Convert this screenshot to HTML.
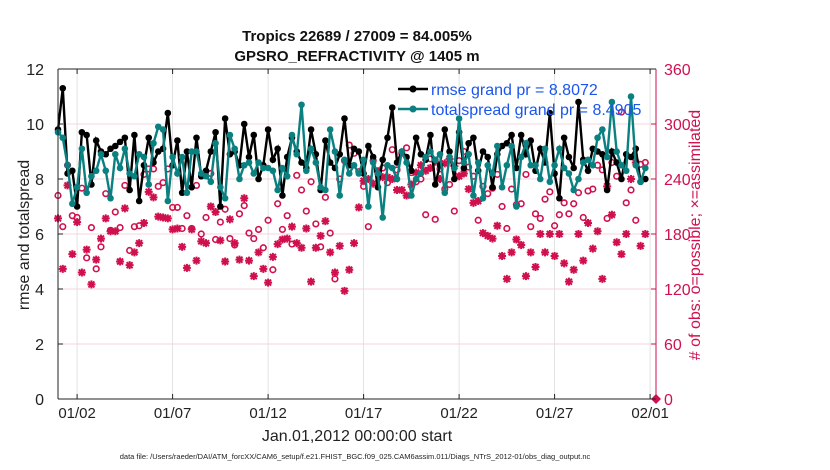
<!DOCTYPE html>
<html><head><meta charset="utf-8"><style>
body{margin:0;background:#fff;}
svg{display:block;font-family:"Liberation Sans",sans-serif;}
</style></head><body>
<svg id="c" width="830" height="470"></svg>
<script>
const rmse=[9.8,11.3,8.2,8.3,7.0,9.7,9.6,7.8,9.4,9.0,8.9,9.1,9.2,9.35,9.5,7.6,9.6,7.2,8.5,9.5,8.6,9.0,9.1,10.4,8.5,9.4,7.5,9.0,7.7,9.5,8.1,
8.3,9.0,9.7,7.0,10.2,8.9,9.0,8.5,10.0,8.8,9.6,8.0,8.5,9.8,8.7,9.1,7.4,8.8,9.5,9.0,8.6,8.4,9.8,8.9,7.6,9.4,8.6,8.4,8.9,10.2,8.5,9.1,
9.0,8.2,9.2,8.8,7.7,8.7,9.5,10.6,8.6,9.0,8.8,8.3,9.5,8.9,8.7,9.6,7.8,8.5,9.8,9.0,8.0,9.7,8.4,9.3,9.5,8.3,9.0,8.8,7.7,8.9,9.2,
9.3,9.6,8.4,9.6,8.9,9.4,8.3,9.1,8.6,10.4,8.2,7.3,9.5,8.8,8.4,10.8,8.7,8.3,9.1,9.0,8.9,7.6,9.0,8.6,8.0,8.9,8.8,9.1,7.9,8.0];
const spread=[9.7,9.5,8.5,7.1,7.7,9.1,7.5,8.1,8.3,8.9,8.3,7.3,8.9,8.4,9.1,8.2,8.1,8.9,8.8,7.8,9.3,9.9,9.8,7.2,8.8,8.2,8.8,7.5,9.0,9.0,8.2,
8.1,7.9,9.3,7.7,7.3,9.6,9.1,8.0,8.5,8.6,8.2,8.6,8.4,8.4,8.3,7.6,8.4,8.1,9.6,8.9,10.7,8.3,9.1,8.6,7.7,7.6,9.8,9.0,7.4,8.7,8.2,8.5,
8.2,8.7,7.0,8.6,8.2,6.6,8.5,8.4,8.0,9.0,8.6,7.4,8.0,8.2,8.8,9.0,8.7,8.9,7.5,8.8,8.4,10.2,8.6,8.9,7.4,8.6,7.3,8.5,8.2,9.2,7.7,
8.5,9.2,7.0,8.8,9.3,8.5,8.5,8.0,9.1,7.9,8.5,9.1,8.4,8.2,7.6,8.0,8.6,8.7,8.5,9.5,9.8,8.8,10.8,9.0,8.5,8.3,11.0,8.5,7.9,8.4];
const possible=[222,188,255,200,198,230,154,187,142,166,224,184,204,187,233,162,188,189,245,251,251,232,236,251,209,209,186,200,186,233,180,
198,246,174,193,207,175,168,202,211,181,175,185,165,195,141,213,185,200,169,244,228,205,237,191,166,220,181,131,240,260,277,
268,248,232,188,260,249,252,236,272,250,268,274,247,237,240,201,262,196,251,229,234,205,260,270,253,243,195,232,224,230,245,
210,186,229,212,213,245,188,202,197,218,226,189,201,214,202,213,225,198,227,229,255,250,197,258,243,313,214,228,195,256,258];
const assim=[197,142,233,158,193,138,163,125,152,175,197,183,183,150,208,146,160,170,192,226,220,199,198,197,185,186,166,143,185,151,172,
170,210,204,173,150,196,170,152,219,151,134,160,142,127,155,169,174,175,188,170,165,186,128,165,178,194,160,138,167,118,141,
170,209,238,240,235,248,242,242,240,228,228,222,234,247,255,249,252,259,240,257,262,254,243,246,229,214,216,181,178,175,189,
156,131,160,174,168,134,160,144,180,160,180,156,180,148,128,141,180,151,192,164,183,131,232,201,171,158,180,240,258,167,180];
const xTickLabels=["01/02","01/07","01/12","01/17","01/22","01/27","02/01"];
const xTickDays=[1,6,11,16,21,26,31];
const yTicks=[0,2,4,6,8,10,12];
const y2Ticks=[0,60,120,180,240,300,360];

const NS="http://www.w3.org/2000/svg", svg=document.getElementById('c');
const L=58,R=656,T=69,B=399;
const X=d=>L+d*19.1, Y=v=>B-(v/12)*(B-T), Y2=v=>B-(v/360)*(B-T);
const PINK="#d0104c";
function el(t,a,p){const e=document.createElementNS(NS,t);for(const k in a)e.setAttribute(k,a[k]);(p||svg).appendChild(e);return e;}
function txt(s,a){const e=el('text',a);e.textContent=s;return e;}

for(const v of yTicks){const g=el('line',{x1:L,x2:R,y1:Y(v),y2:Y(v),stroke:"#f3c6d4","stroke-width":0.8});

}
xTickDays.forEach((d,i)=>{const g=el('line',{x1:X(d),x2:X(d),y1:T,y2:B,stroke:"#dcdcdc","stroke-width":0.8});


const t=txt(xTickLabels[i],{x:X(d),y:418,"text-anchor":"middle","font-size":15,fill:"#222"});


el('line',{x1:X(d),x2:X(d),y1:B,y2:B-5,stroke:"#222"});el('line',{x1:X(d),x2:X(d),y1:T,y2:T+5,stroke:"#222"});});
yTicks.forEach(v=>{const t=txt(v,{x:44,y:Y(v)+6,"text-anchor":"end","font-size":16,fill:"#222"});


el('line',{x1:L,x2:L+5,y1:Y(v),y2:Y(v),stroke:"#222"});});
y2Ticks.forEach(v=>{const t=txt(v,{x:664,y:Y2(v)+6,"font-size":16,fill:PINK});


el('line',{x1:R-5,x2:R,y1:Y2(v),y2:Y2(v),stroke:PINK});});

// obs markers
possible.forEach((v,i)=>{const c=el('circle',{cx:X(i*0.25),cy:Y2(v),r:2.8,fill:"none",stroke:PINK,"stroke-width":1.6});

});
assim.forEach((v,i)=>{const x=X(i*0.25),y=Y2(v),s=4;
const p=el('path',{d:`M${x-s} ${y}H${x+s}M${x} ${y-s}V${y+s}M${x-3} ${y-3}L${x+3} ${y+3}M${x-3} ${y+3}L${x+3} ${y-3}`,stroke:PINK,"stroke-width":2});

});
const dm=el('path',{d:`M${R} ${B-5}L${R+5} ${B}L${R} ${B+5}L${R-5} ${B}Z`,fill:PINK});

function series(arr,col,name){
 const pts=arr.map((v,i)=>X(i*0.25)+","+Y(v)).join(" ");
 const pl=el('polyline',{points:pts,fill:"none",stroke:col,"stroke-width":2.4});
 
 
 arr.forEach((v,i)=>{const c=el('circle',{cx:X(i*0.25),cy:Y(v),r:3.3,fill:col});
 
 });
}
series(rmse,"#000","rmse");
series(spread,"#0b8080","totalspread");

// axes box
el('line',{x1:L,x2:R,y1:T,y2:T,stroke:"#222"});el('line',{x1:L,x2:R,y1:B,y2:B,stroke:"#222"});
el('line',{x1:L,x2:L,y1:T,y2:B,stroke:"#222"});el('line',{x1:R,x2:R,y1:T,y2:B,stroke:PINK});

// legend
[[89,"#000","rmse grand pr = 8.8072"],[109,"#0b8080","totalspread grand pr = 8.4905"]].forEach(([y,c,s])=>{
 el('line',{x1:398,x2:428,y1:y,y2:y,stroke:c,"stroke-width":2.4});el('circle',{cx:413,cy:y,r:3.5,fill:c});
 const t=txt(s,{x:431,y:y+6,"font-size":16,fill:"#1a55f0"});
 
 });

const t1=txt("Tropics 22689 / 27009 = 84.005%",{x:357,y:41,"text-anchor":"middle","font-size":15,"font-weight":"bold",fill:"#111"});


const t2=txt("GPSRO_REFRACTIVITY @ 1405 m",{x:357,y:61,"text-anchor":"middle","font-size":15,"font-weight":"bold",fill:"#111"});


const yl=txt("rmse and totalspread",{x:0,y:0,transform:"translate(29,235) rotate(-90)","text-anchor":"middle","font-size":16,fill:"#222"});


const y2l=txt("# of obs: o=possible; \u00d7=assimilated",{x:0,y:0,transform:"translate(700,235) rotate(-90)","text-anchor":"middle","font-size":16,fill:PINK});


const xl=txt("Jan.01,2012 00:00:00 start",{x:357,y:441,"text-anchor":"middle","font-size":16,fill:"#222"});


const fn=txt("data file: /Users/raeder/DAI/ATM_forcXX/CAM6_setup/f.e21.FHIST_BGC.f09_025.CAM6assim.011/Diags_NTrS_2012-01/obs_diag_output.nc",{x:355,y:459,"text-anchor":"middle","font-size":7.5,fill:"#222"});


</script>
</body></html>
